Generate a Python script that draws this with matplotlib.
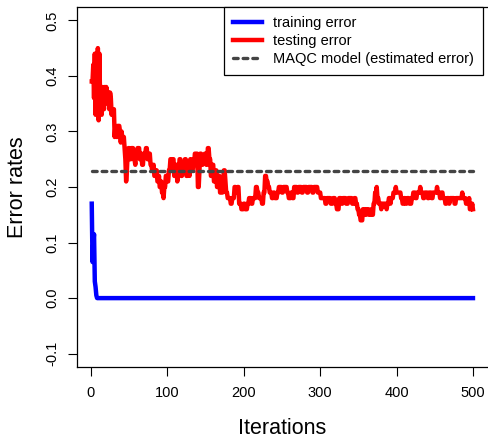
import numpy as np
import matplotlib
matplotlib.use('Agg')
import matplotlib.pyplot as plt

plt.rcParams['font.family'] = ['Liberation Sans', 'DejaVu Sans']

# testing error as (value, run length) pairs
test_values = [
    0.39, 0.42, 0.36, 0.44, 0.33, 0.43, 0.34, 0.45, 0.32, 0.44, 0.35, 0.38, 0.33, 0.38,
    0.36, 0.34, 0.38, 0.35, 0.38, 0.37, 0.34, 0.37, 0.36, 0.33, 0.34, 0.29, 0.31, 0.30,
    0.29, 0.31, 0.30, 0.28, 0.30, 0.29, 0.27, 0.25, 0.21, 0.23, 0.26, 0.27,
    0.25, 0.27, 0.25, 0.24, 0.26, 0.27, 0.25, 0.26, 0.24, 0.26, 0.27, 0.25, 0.26, 0.24,
    0.23, 0.24, 0.22, 0.23, 0.21, 0.22, 0.20, 0.21, 0.19, 0.18, 0.20, 0.22, 0.21,
    0.23, 0.25, 0.23, 0.25, 0.22, 0.24, 0.21, 0.23, 0.25, 0.22, 0.24, 0.23, 0.25, 0.22,
    0.24, 0.22, 0.25, 0.23, 0.24,
    0.26, 0.20, 0.23, 0.26, 0.24, 0.25, 0.26, 0.24, 0.27, 0.25, 0.22, 0.24, 0.21, 0.23,
    0.20, 0.22, 0.19,
    0.19, 0.21, 0.23, 0.21, 0.19, 0.18, 0.17, 0.18, 0.20, 0.19, 0.20, 0.17, 0.16, 0.17,
    0.16, 0.17, 0.18, 0.17, 0.18, 0.20, 0.19, 0.18, 0.17, 0.19, 0.22, 0.21, 0.20, 0.19,
    0.18, 0.19, 0.18, 0.19, 0.20, 0.19, 0.20, 0.19, 0.18, 0.19, 0.18, 0.20, 0.19, 0.20,
    0.19, 0.20, 0.19, 0.20, 0.19, 0.20, 0.19,
    0.18, 0.17, 0.18, 0.17, 0.18, 0.17, 0.16, 0.18, 0.17, 0.18, 0.17, 0.18, 0.17, 0.18,
    0.17, 0.16, 0.15, 0.14, 0.16, 0.15, 0.16, 0.15, 0.16, 0.15, 0.17, 0.19, 0.20, 0.18,
    0.17, 0.16, 0.17, 0.16, 0.17, 0.18, 0.17, 0.18, 0.19, 0.20, 0.19, 0.18, 0.17, 0.18,
    0.17, 0.18, 0.17, 0.18, 0.19, 0.18, 0.19, 0.20, 0.19, 0.18, 0.19, 0.18, 0.19, 0.18,
    0.19, 0.20, 0.19, 0.18, 0.19, 0.18, 0.17, 0.18, 0.17, 0.18, 0.17, 0.18, 0.19, 0.18,
    0.17, 0.18, 0.16, 0.17, 0.16,
]
test_runs = [
    2, 1, 1, 1, 1, 1, 1, 1, 1, 1, 1, 1, 1, 1,
    1, 1, 1, 1, 1, 3, 1, 1, 1, 1, 3, 1, 1, 1,
    1, 3, 1, 1, 1, 3, 1, 1, 1, 1, 1, 2,
    2, 3, 2, 1, 2, 3, 2, 1, 2, 3, 2, 2, 2, 2,
    2, 1, 2, 2, 2, 1, 2, 1, 2, 1, 2, 2, 2,
    2, 2, 1, 2, 2, 2, 1, 2, 2, 2, 2, 1, 2, 2,
    2, 1, 2, 2, 2,
    4, 2, 1, 2, 2, 2, 2, 2, 2, 2, 2, 2, 2, 2,
    2, 2, 2,
    2, 1, 2, 1, 2, 4, 2, 3, 2, 2, 2, 3, 3, 2,
    3, 2, 3, 2, 4, 2, 2, 4, 2, 2, 2, 2, 2, 3,
    2, 2, 3, 2, 4, 2, 5, 2, 3, 2, 2, 4, 2, 4,
    2, 5, 2, 5, 2, 5, 4,
    6, 2, 5, 3, 3, 2, 3, 3, 2, 4, 3, 5, 3, 2,
    2, 2, 2, 3, 3, 2, 3, 3, 2, 1, 2, 2, 1, 2,
    3, 1, 6, 1, 2, 2, 1, 3, 3, 1, 6, 2, 2, 2,
    2, 3, 3, 2, 3, 2, 4, 1, 3, 2, 4, 2, 3, 2,
    5, 1, 3, 2, 2, 3, 2, 3, 1, 6, 2, 8, 1, 4,
    4, 1, 3, 1, 1,
]
test_error = np.repeat(test_values, test_runs)
iterations = np.arange(1, len(test_error) + 1)

# training error: drops to zero after a few iterations
train_head = [0.17, 0.065, 0.10, 0.115, 0.03, 0.02, 0.005]
train_error = np.zeros(len(iterations))
train_error[:len(train_head)] = train_head

maqc_error = 0.228

fig = plt.figure(figsize=(4.88, 4.37), dpi=100)
ax = fig.add_axes([76.5 / 488, 70 / 437, 411.7 / 488, 360 / 437])

ax.plot(iterations, train_error, color='#0000ff', lw=3.2, label='training error',
        solid_joinstyle='round')
ax.plot(iterations, test_error, color='#ff0000', lw=3.2, label='testing error',
        solid_joinstyle='round')
ax.plot([iterations[0], iterations[-1]], [maqc_error, maqc_error], color='#444444', lw=2.4,
        linestyle=(0, (1.4, 1.5)), dash_capstyle='round',
        label='MAQC model (estimated error)')

ax.set_xlim(1 - 0.04 * 499, 500 + 0.04 * 499)
ax.set_ylim(-0.124, 0.524)
ax.set_xticks([0, 100, 200, 300, 400, 500])
ax.set_yticks([-0.1, 0.0, 0.1, 0.2, 0.3, 0.4, 0.5])
ax.set_yticklabels(['-0.1', '0.0', '0.1', '0.2', '0.3', '0.4', '0.5'],
                   rotation=90, va='center')
ax.tick_params(direction='out', length=6.5, width=0.8, labelsize=10.5)
ax.tick_params(axis='x', pad=7)
ax.tick_params(axis='y', pad=6)
ax.spines['right'].set_visible(False)
for s in ['left', 'top', 'bottom']:
    ax.spines[s].set_linewidth(0.9)

ax.set_xlabel('Iterations', fontsize=15.5, va='center')
ax.xaxis.set_label_coords(0.5, (367 - 428) / 360)
ax.set_ylabel('Error rates', fontsize=15.5, va='center')
ax.yaxis.set_label_coords((18 - 76.5) / 411.7, 0.5)

leg = ax.legend(loc='upper right', bbox_to_anchor=(483 / 488, 1 - 7 / 437),
                bbox_transform=fig.transFigure, borderaxespad=0, fancybox=False,
                framealpha=1, edgecolor='black', fontsize=10.5, handlelength=2.0,
                handletextpad=0.8, labelspacing=0.28, borderpad=0.6)
leg.get_frame().set_linewidth(0.9)

fig.savefig('out.png', dpi=100)
